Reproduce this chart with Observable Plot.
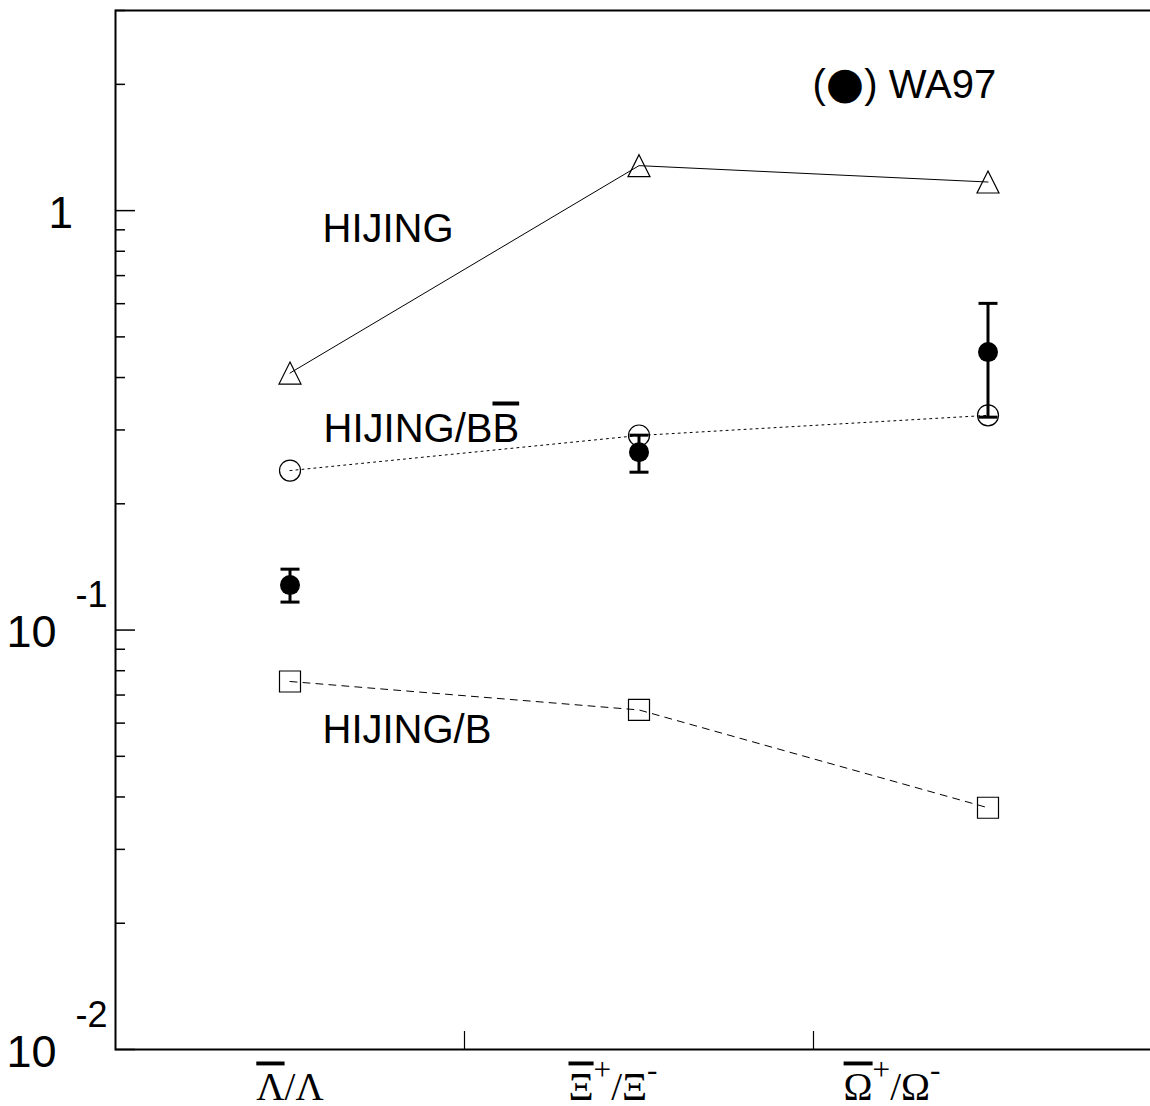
<!DOCTYPE html>
<html><head><meta charset="utf-8">
<script src="https://cdn.jsdelivr.net/npm/d3@7"></script>
<script src="https://cdn.jsdelivr.net/npm/@observablehq/plot@0.6"></script>
<style>
html,body{margin:0;padding:0;background:#fff;overflow:hidden;}
#chart{width:1150px;height:1106px;overflow:hidden;}
#chart svg{display:block;max-width:none !important;width:1170px !important;height:1106px !important;}
</style></head><body><div id="chart"></div>
<script>
// ---- data ----
const categories = ["Λ̄/Λ", "Ξ̄⁺/Ξ⁻", "Ω̄⁺/Ω⁻"];
const hijing     = [0.41, 1.28, 1.17];
const hijingBB   = [0.240, 0.291, 0.325];
const hijingB    = [0.0754, 0.0645, 0.0377];
const wa97       = [0.128, 0.2655, 0.46];
const wa97Lo     = [0.1166, 0.2379, 0.3218];
const wa97Hi     = [0.1397, 0.2915, 0.601];
const yMajorTicks = [0.01, 0.1, 1];
const yMinorTicks = [0.02,0.03,0.04,0.05,0.06,0.07,0.08,0.09,0.2,0.3,0.4,0.5,0.6,0.7,0.8,0.9,2,3];
const seriesLabels = ["HIJING", "HIJING/BB̄", "HIJING/B"];
const legendLabel = "(●) WA97";

// ---- layout / style ----
const W = 1170, H = 1106, mL = 115, mR = 8, mT = 10, mB = 57;
const fw = W - mL - mR, fh = H - mT - mB;
const sans = "'Liberation Sans', Arial, Helvetica, sans-serif";
const serif = "'Liberation Serif', 'Times New Roman', serif";

const rows = categories.map((c, i) => ({
  cat: c, i, pos: i + 0.5,
  hijing: hijing[i], bb: hijingBB[i], b: hijingB[i],
  wa: wa97[i], lo: wa97Lo[i], hi: wa97Hi[i]
}));

const triSym = {draw(ctx, size){ const h = Math.sqrt(size/Math.PI); ctx.moveTo(0,-h); ctx.lineTo(h,h); ctx.lineTo(-h,h); ctx.closePath(); }};
const sqSym  = {draw(ctx, size){ const h = Math.sqrt(size/Math.PI); ctx.rect(-h,-h,2*h,2*h); }};
const capSym = {draw(ctx, size){ const h = Math.sqrt(size/Math.PI); ctx.moveTo(-h,0); ctx.lineTo(h,0); }};

const labelShift = [0, -26, -96];

const plot = Plot.plot({
  width: W, height: H,
  marginLeft: mL, marginRight: mR, marginTop: mT, marginBottom: mB,
  style: {background: "white", color: "black", maxWidth: "none"},
  x: {type: "linear", domain: [0, categories.length], axis: null},
  y: {type: "log", domain: [0.01, 3], axis: null},
  marks: [
    Plot.tickY(yMajorTicks, {y: d => d, insetRight: fw - 20, stroke: "black", strokeWidth: 1.5}),
    Plot.tickY(yMinorTicks, {y: d => d, insetRight: fw - 10, stroke: "black", strokeWidth: 1.5}),
    Plot.tickX(d3.range(1, categories.length), {x: d => d, insetTop: fh - 18, stroke: "black", strokeWidth: 1.2}),
    Plot.frame({stroke: "black", strokeWidth: 2}),
    // y labels
    Plot.text(yMajorTicks.filter(v => v === 1), {frameAnchor: "left", y: d => d, text: () => "1", textAnchor: "start", lineAnchor: "bottom", dx: -67, dy: 17, fontSize: 44, fontFamily: sans}),
    Plot.text(yMajorTicks.filter(v => v !== 1), {frameAnchor: "left", y: d => d, text: () => "10", textAnchor: "start", lineAnchor: "bottom", dx: -109, dy: 17, fontSize: 45, fontFamily: sans}),
    Plot.text(yMajorTicks.filter(v => v !== 1), {frameAnchor: "left", y: d => d, text: d => String(Math.round(Math.log10(d))), textAnchor: "start", lineAnchor: "bottom", dx: -40, dy: -23, fontSize: 36, fontFamily: sans}),
    // x labels
    ...rows.map((r, j) => Plot.text([r], {x: "pos", frameAnchor: "bottom", text: "cat", textAnchor: "middle", lineAnchor: "bottom", dx: labelShift[j], dy: 50, fontSize: 39, fontFamily: serif})),
    // model lines
    Plot.line(rows, {x: "pos", y: "hijing", stroke: "black", strokeWidth: 1}),
    Plot.line(rows, {x: "pos", y: "bb", stroke: "black", strokeWidth: 1, strokeDasharray: "2,4"}),
    Plot.line(rows, {x: "pos", y: "b", stroke: "black", strokeWidth: 1, strokeDasharray: "7,6"}),
    Plot.dot(rows, {x: "pos", y: "hijing", symbol: triSym, r: 11, fill: "none", stroke: "black", strokeWidth: 1.2}),
    Plot.dot(rows, {x: "pos", y: "bb", symbol: "circle", r: 10.5, fill: "none", stroke: "black", strokeWidth: 1.2}),
    Plot.dot(rows, {x: "pos", y: "b", symbol: sqSym, r: 10.5, fill: "none", stroke: "black", strokeWidth: 1.2}),
    // WA97 data
    Plot.ruleX(rows, {x: "pos", y1: "lo", y2: "hi", stroke: "black", strokeWidth: 3}),
    Plot.dot(rows, {x: "pos", y: "lo", symbol: capSym, r: 9.5, stroke: "black", strokeWidth: 3}),
    Plot.dot(rows, {x: "pos", y: "hi", symbol: capSym, r: 9.5, stroke: "black", strokeWidth: 3}),
    Plot.dot(rows, {x: "pos", y: "wa", r: 10, fill: "black", stroke: "none"}),
    // annotations
    Plot.text([seriesLabels[0]], {frameAnchor: "top-left", text: d => d, textAnchor: "start", lineAnchor: "bottom", dx: 207, dy: 231, fontSize: 40, fontFamily: sans}),
    Plot.text([seriesLabels[1]], {frameAnchor: "top-left", text: d => d, textAnchor: "start", lineAnchor: "bottom", dx: 208, dy: 431, fontSize: 40, fontFamily: sans}),
    Plot.text([seriesLabels[2]], {frameAnchor: "top-left", text: d => d, textAnchor: "start", lineAnchor: "bottom", dx: 207, dy: 732, fontSize: 40, fontFamily: sans}),
    Plot.text([legendLabel], {frameAnchor: "top-left", text: d => d, textAnchor: "start", lineAnchor: "bottom", dx: 697, dy: 87, fontSize: 40, fontFamily: sans})
  ]
});
document.getElementById("chart").appendChild(plot);

// rich text: overbars (combining macron) and superscript charges
const NS = "http://www.w3.org/2000/svg";
d3.select(plot).selectAll("text").each(function() {
  const el = this;
  const s = el.textContent;
  if (!/[\u0304⁺⁻●]/.test(s)) return;
  const fs = parseFloat(getComputedStyle(el).fontSize) || 40;
  const supSize = fs * 0.8, supShift = fs * 0.5;
  const chars = Array.from(s);
  while (el.firstChild) el.removeChild(el.firstChild);
  let shift = 0;
  for (let k = 0; k < chars.length; k++) {
    const c = chars[k];
    const t = document.createElementNS(NS, "tspan");
    let dy = 0;
    if (c === "⁺" || c === "⁻") {
      t.textContent = c === "⁺" ? "+" : "-";
      t.setAttribute("font-size", supSize);
      dy = -supShift;
    } else {
      t.textContent = c;
      if (chars[k + 1] === "\u0304") {
        t.style.textDecoration = "overline";
        t.style.textDecorationThickness = "2px";
        k++;
      }
      if (c === "●") { t.setAttribute("font-size", fs * 1.1); t.setAttribute("font-family", "'DejaVu Sans', sans-serif"); }
    }
    if (dy !== shift) { t.setAttribute("dy", dy - shift); shift = dy; }
    el.appendChild(t);
  }
});
</script>
</body></html>
